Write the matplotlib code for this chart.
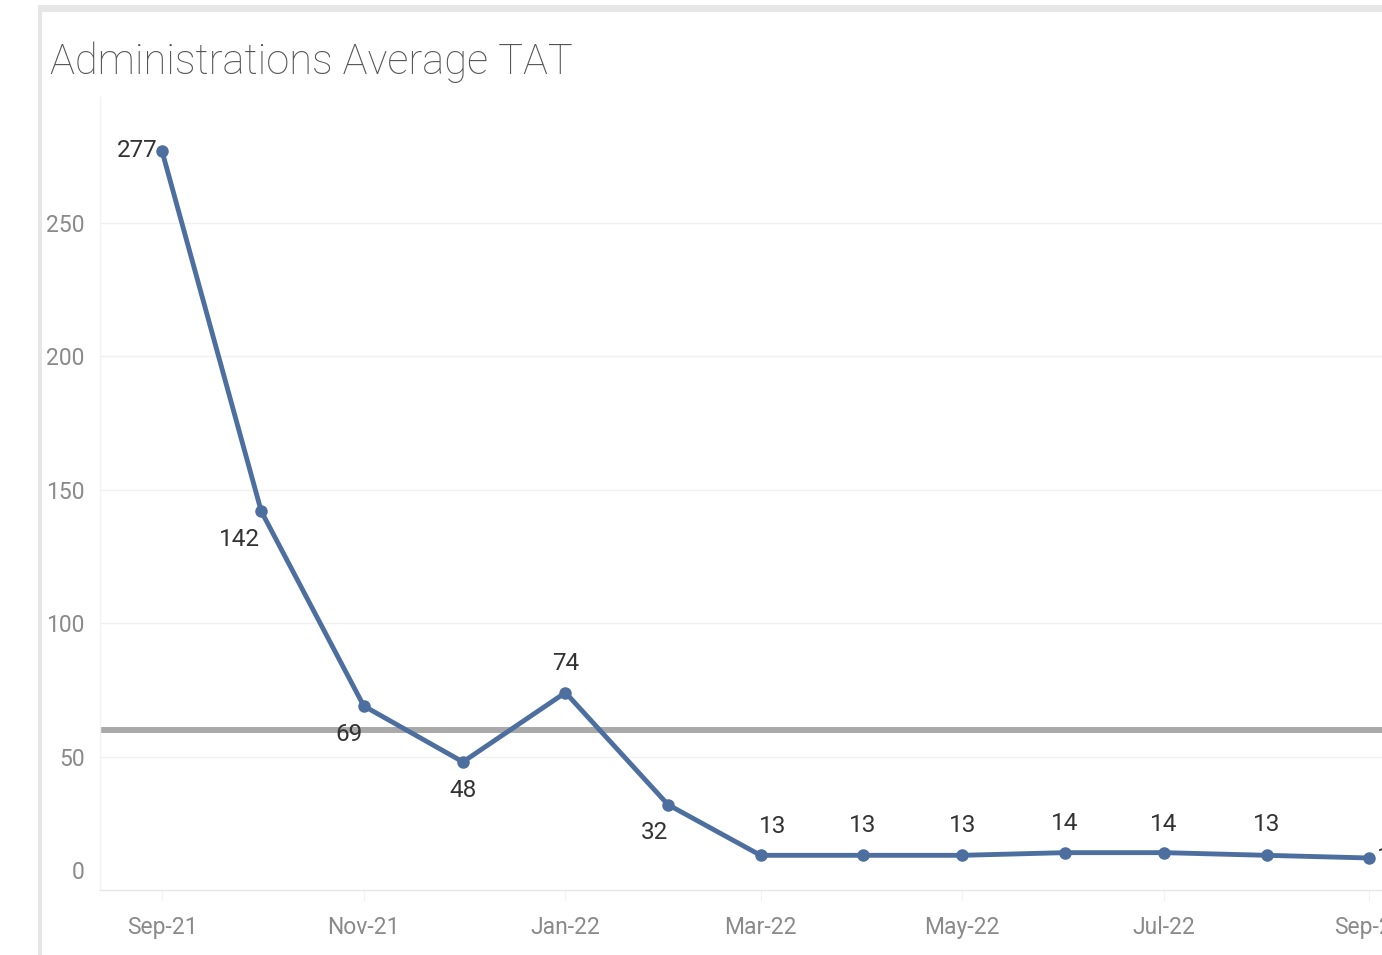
import matplotlib
matplotlib.use("Agg")
import matplotlib.pyplot as plt
import matplotlib.dates as mdates
from matplotlib.patches import Rectangle
from matplotlib.transforms import ScaledTranslation
import datetime as dt

# ---- data ----
months = ["2021-09", "2021-10", "2021-11", "2021-12", "2022-01", "2022-02",
          "2022-03", "2022-04", "2022-05", "2022-06", "2022-07", "2022-08", "2022-09"]
avg_tat = [277, 142, 69, 48, 74, 32, 13, 13, 13, 14, 14, 13, 12]
target = 60
title = "Administrations Average TAT"
y_ticks = [0, 50, 100, 150, 200, 250]
x_tick_months = ["2021-09", "2021-11", "2022-01", "2022-03", "2022-05", "2022-07", "2022-09"]

# label offsets in pixels (layout only)
label_offsets = [(-27, 0), (-22, -28), (-15, -29), (0, -29), (0, 29), (-13, -28),
                 (12, 29), (0, 30), (0, 30), (0, 29), (0, 28), (0, 31), (10, 0)]

FONT = ["Roboto", "DejaVu Sans"]
plt.rcParams["font.family"] = FONT

W, H, DPI = 1382, 955, 100
fig = plt.figure(figsize=(W / DPI, H / DPI), dpi=DPI)
fig.patch.set_facecolor("white")

# frame bands (dashboard border)
fig.add_artist(Rectangle((38 / W, 0), 4 / W, 1 - 5 / H, transform=fig.transFigure,
                         facecolor="#e6e6e6", edgecolor="none"))
fig.add_artist(Rectangle((38 / W, 1 - 12 / H), 1, 7 / H, transform=fig.transFigure,
                         facecolor="#e6e6e6", edgecolor="none"))

def todate(s):
    y, m = s.split("-")
    return dt.datetime(int(y), int(m), 1)

x = [todate(m) for m in months]

left_px, right_px, top_px, bottom_px = 100, 1430, 97, 890
ax = fig.add_axes([left_px / W, 1 - bottom_px / H, (right_px - left_px) / W, (bottom_px - top_px) / H])
ax.set_facecolor("none")

x0 = mdates.date2num(dt.datetime(2021, 9, 1))
px_per_day = 3.307
ax.set_xlim(x0 - (162 - left_px) / px_per_day, x0 + (right_px - 162) / px_per_day)
ax.set_ylim(0, (bottom_px - top_px) / 2.668)

# gridlines
for v in y_ticks[1:]:
    ax.axhline(v, color="#f0f0f0", lw=1.0, zorder=0)

# target reference line
ax.axhline(target, color="#a9a9a9", lw=4.3, zorder=1)

ax.plot(x, avg_tat, color="#4d6f9f", lw=3.5, marker="o", markersize=8,
        solid_joinstyle="round", zorder=3)

for xi, v, (dx, dy) in zip(x, avg_tat, label_offsets):
    ha = "center"
    if dx == -27:
        ha, dx = "right", -4
    elif (dx, dy) == (10, 0):
        ha, dx = "left", 8
    ax.annotate(str(v), (xi, v), xytext=(dx, dy), textcoords="offset pixels",
                ha=ha, va="center", fontsize=17.5, color="#333333", zorder=4)

for s in ["top", "right"]:
    ax.spines[s].set_visible(False)
ax.spines["left"].set_color("#f2f2f2")
ax.spines["bottom"].set_color("#e6e6e6")
ax.spines["left"].set_linewidth(1)
ax.spines["bottom"].set_linewidth(1)

ax.set_yticks(y_ticks)
ax.set_yticklabels([str(v) for v in y_ticks])
ax.tick_params(axis="y", length=0, pad=11, labelsize=16.5, labelcolor="#8a8a8a")
lbl0 = ax.get_yticklabels()[0]
lbl0.set_transform(lbl0.get_transform() + ScaledTranslation(0, 0.20, fig.dpi_scale_trans))

ax.set_xticks([todate(m) for m in x_tick_months])
ax.xaxis.set_major_formatter(mdates.DateFormatter("%b-%y"))
ax.tick_params(axis="x", length=8, color="#f2f2f2", pad=11, labelsize=16.5, labelcolor="#8a8a8a")

fig.text(50 / W, 1 - 62 / H, title, fontsize=30, color="#555555", ha="left", va="center",
         fontweight="light")

fig.savefig("out.png", dpi=DPI)
